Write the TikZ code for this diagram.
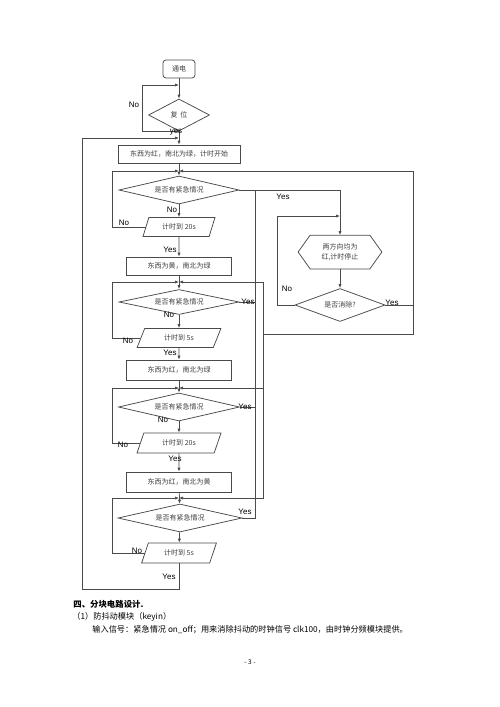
\documentclass[tikz,border=0pt]{standalone}
\usepackage{fontspec}
\setmainfont{Liberation Serif}
\setsansfont{Liberation Sans}
\newfontfamily\cjk{Noto Sans CJK SC}
\usetikzlibrary{arrows.meta, positioning, shapes.geometric, calc}
\definecolor{cline}{HTML}{4A4A4A}
\definecolor{ctext}{HTML}{404040}
\tikzset{
  every picture/.style={line width=0.75pt},
  box/.style={draw=cline, rectangle, minimum width=#1, minimum height=18pt, inner sep=0pt, font=\cjk\fontsize{7}{8}\selectfont, text=ctext},
  box/.default=105pt,
  startbox/.style={box=32pt, rounded corners=3pt},
  check/.style={draw=cline, diamond, aspect=4, inner sep=0pt, minimum width=#1, minimum height=28pt, font=\cjk\fontsize{7}{8}\selectfont, text=ctext},
  check/.default=120pt,
  timer/.style={draw=cline, trapezium, trapezium left angle=63, trapezium right angle=117, trapezium stretches=true, minimum width=#1, minimum height=19pt, inner sep=0pt, font=\cjk\fontsize{7}{8}\selectfont, text=ctext},
  hexa/.style={minimum width=83pt, minimum height=33pt, inner sep=0pt, align=center, font=\cjk\fontsize{7}{10}\selectfont, text=ctext},
  wire/.style={draw=cline},
  arrow/.style={-{Latex[length=4pt, width=3.2pt]}, draw=cline},
  lbl/.style={font=\sffamily\fontsize{8}{9}\selectfont, inner sep=0pt},
  body/.style={font=\cjk\fontsize{8.2}{10}\selectfont, anchor=west, inner sep=0pt},
}

\begin{document}
\begin{tikzpicture}[x=1pt, y=-1pt]
  \fill[white] (0,0) rectangle (500,707);
  \useasboundingbox (0,0) rectangle (500,707);
  % main column
  \node[startbox] (power) at (179,69) {通电};
  \node[check=61pt, minimum height=32pt] (reset) at (179,115) {复\hspace{3pt}位};
  \node[box=122pt] (s0) at (179,154) {东西为红，南北为绿，计时开始};
  \node[check] (chk1) at (179,190) {是否有紧急情况};
  \node[timer=72pt] (t1) at (179,227) {计时到 20s};
  \node[box] (s1) at (179,266) {东西为黄，南北为绿};
  \node[check, minimum height=25pt] (chk2) at (179,302) {是否有紧急情况};
  \node[timer=84pt] (t2) at (179,338) {计时到 5s};
  \node[box, minimum height=20pt] (s2) at (179,370) {东西为红，南北为绿};
  \node[check=121pt] (chk3) at (179,407) {是否有紧急情况};
  \node[timer=84pt, minimum height=20pt] (t3) at (179,443) {计时到 20s};
  \node[box, minimum height=20pt] (s3) at (179,482) {东西为红，南北为黄};
  \node[check=124pt] (chk4) at (180,518) {是否有紧急情况};
  \node[timer=75pt, minimum height=20pt] (t4) at (179,553) {计时到 5s};
  % emergency branch
  \node[hexa] (stop) at (340,252) {两方向均为\\红,计时停止};
  \node[check=90pt, minimum height=33pt] (clear) at (340,305) {是否消除?};
  \draw[wire] (stop.west) -- ($(stop.north west)+(12,0)$) -- ($(stop.north east)+(-12,0)$) -- (stop.east)
    -- ($(stop.south east)+(-12,0)$) -- ($(stop.south west)+(12,0)$) -- cycle;

  % junctions and buses
  \coordinate (j0) at (179,85);
  \coordinate (jtop) at (179,138);
  \coordinate (j1) at (179,171);
  \coordinate (j2) at (179,282);
  \coordinate (j3) at (179,388);
  \coordinate (j4) at (179,498);
  \coordinate (rl) at (142,0);
  \coordinate (lbus) at (112,0);
  \coordinate (ebus) at (255,0);
  \coordinate (fbus) at (413,0);
  \coordinate (nl) at (277,0);
  \coordinate (obot) at (82,589);
  \coordinate (sj) at (340,216);
  \coordinate (rjoin) at (263,334);

  \draw[arrow] (power) -- (reset);
  \draw[arrow] (reset.south) -- (reset.south -| rl) |- (j0);
  \draw[arrow] (reset) -- (s0);
  \draw[arrow] (t4.south) |- (obot) |- (jtop);
  \draw[arrow] (s0) -- (chk1);
  \draw[arrow] (chk1) -- (t1);
  \draw[arrow] (t1.west) -- (t1.west -| lbus) |- (j1);
  \draw[arrow] (t1) -- (s1);
  \draw[arrow] (s1) -- (chk2);
  \draw[arrow] (chk2) -- (t2);
  \draw[arrow] (t2.west) -- (t2.west -| lbus) |- (j2);
  \draw[arrow] (t2) -- (s2);
  \draw[arrow] (s2) -- (chk3);
  \draw[arrow] (chk3) -- (t3);
  \draw[arrow] (t3.west) -- (t3.west -| lbus) |- (j3);
  \draw[arrow] (t3) -- (s3);
  \draw[arrow] (s3) -- (chk4);
  \draw[arrow] (chk4) -- (t4);
  \draw[arrow] (t4.west) -- (t4.west -| lbus) |- (j4);

  \draw[arrow] (chk1.east) -| (stop.north);
  \draw[wire] (chk1.east -| ebus) |- (chk4.east);
  \draw[wire] (chk2.east) -- (chk2.east -| ebus);
  \draw[wire] (chk3.east) -- (chk3.east -| ebus);
  \draw[arrow] (stop) -- (clear);
  \draw[arrow] (clear.west) -- (clear.west -| nl) |- (sj);
  \draw[arrow] (clear.east) -- (clear.east -| fbus) |- (j1);
  \draw[wire] (clear.east -| fbus) |- (rjoin);
  \draw[arrow] (rjoin) |- (j2);
  \draw[arrow] (rjoin) |- (j3);
  \draw[arrow] (rjoin) |- (j4);

  % Yes / No labels
  \node[lbl] (nreset) at (134,105) {No};
  \node[lbl] (yreset) at (176,132) {yes};
  \node[lbl] (n1) at (172,210) {No};
  \node[lbl] (nt1) at (124,223) {No};
  \node[lbl] (yt1) at (170,250) {Yes};
  \node[lbl] (y1) at (283,197) {Yes};
  \node[lbl] (n2) at (169,315) {No};
  \node[lbl] (y2) at (248,302) {Yes};
  \node[lbl] (nt2) at (128,341) {No};
  \node[lbl] (yt2) at (170,353) {Yes};
  \node[lbl] (n3) at (163,420) {No};
  \node[lbl] (y3) at (245,407) {Yes};
  \node[lbl] (nt3) at (123,445) {No};
  \node[lbl] (yt3) at (175,459) {Yes};
  \node[lbl] (y4) at (245,512) {Yes};
  \node[lbl] (nt4) at (137,551) {No};
  \node[lbl] (yt4) at (169,577) {Yes};
  \node[lbl] (nclear) at (287,289) {No};
  \node[lbl] (yclear) at (392,303) {Yes};

  % text below the chart
  \node[body, font=\cjk\bfseries\fontsize{8.4}{10}\selectfont] (sec) at (73,604) {四、分块电路设计.};
  \node[body] (sub) at (72,617) {（1）防抖动模块（keyin）};
  \node[body] (inp) at (92,630) {输入信号：紧急情况 on\_off；用来消除抖动的时钟信号 clk100，由时钟分频模块提供。};
  \node[body, anchor=center, font=\cjk\fontsize{6.5}{8}\selectfont] (pg) at (250,662) {- 3 -};
\end{tikzpicture}
\end{document}
